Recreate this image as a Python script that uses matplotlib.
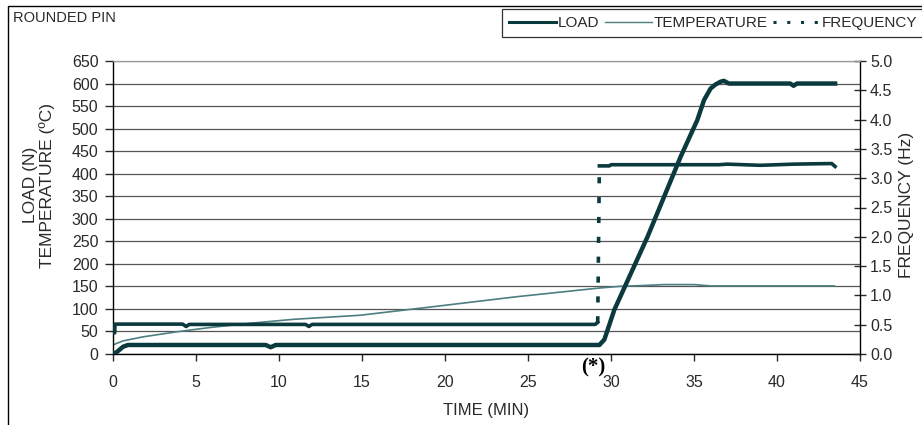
import matplotlib
matplotlib.use("Agg")
import matplotlib.pyplot as plt
from matplotlib.lines import Line2D
from matplotlib.patches import Rectangle

plt.rcParams['font.family'] = ['Liberation Sans', 'DejaVu Sans']

# load (N) vs time (min)
load_time = [0, 0.15, 0.35, 0.6, 0.9, 1.2, 9.2, 9.5, 9.8, 12.0, 29.3, 29.6, 30.2, 31.2,
             32.2, 33.2, 34.2, 35.2, 35.6, 36.0, 36.3, 36.6, 36.8, 37.1, 40.8, 41.0, 41.2, 43.5]
load_n = [3, 2, 8, 16, 20, 20, 20, 15, 20, 20, 20, 32, 98, 179,
          260, 349, 438, 519, 563, 589, 598, 604, 606, 600, 600, 595, 600, 600]

# temperature (C) vs time
temp_time = [0, 0.12, 0.6, 1.8, 3.8, 5.9, 8.5, 10.9, 14.9, 19.3, 24.3, 29.2, 30.5, 32.0,
             33.2, 35.0, 36.0, 43.5]
temp_c = [20, 22, 29, 38, 49, 59, 69, 77, 86, 105, 127, 146, 150, 152,
          154, 154, 151, 151]

# frequency (Hz) vs time
freq_time = [0, 0.1, 0.12, 4.2, 4.4, 4.6, 11.6, 11.8, 12.0, 29.05, 29.2, 29.3, 29.9, 30.0,
             36.5, 37.0, 39.0, 41.0, 43.3, 43.5]
freq_hz = [0.36, 0.36, 0.51, 0.51, 0.47, 0.505, 0.505, 0.47, 0.505, 0.505, 0.54, 3.21, 3.21, 3.23,
           3.23, 3.24, 3.22, 3.24, 3.25, 3.2]

x_ticks = [0, 5, 10, 15, 20, 25, 30, 35, 40, 45]
left_ticks = list(range(0, 651, 50))
right_ticks = [i * 0.5 for i in range(11)]

load_col = '#0a3a3e'
temp_col = '#4d7e81'
txt_col = '#2a2a2a'

W, H = 922, 425
fig = plt.figure(figsize=(W / 100, H / 100), dpi=100)
ax = fig.add_axes([113 / W, 1 - 354 / H, (860 - 113) / W, (354 - 61) / H])
ax2 = ax.twinx()

# outer chart frame (cut off at right/bottom)
fig.patches.append(Rectangle((8 / W, -0.1), 1.2, 1.1 - 6 / H, transform=fig.transFigure,
                             fill=False, edgecolor='black', linewidth=1.0))

ax.plot(temp_time, temp_c, color=temp_col, lw=1.2, zorder=2, solid_capstyle='butt')
ax.plot(load_time, load_n, color=load_col, lw=3.2, zorder=3, solid_joinstyle='round')

# frequency: dense data looks solid, the jump shows the dash pattern
j = next(i for i in range(len(freq_hz) - 1) if freq_hz[i + 1] - freq_hz[i] > 1)
ax2.plot(freq_time[:j + 1], freq_hz[:j + 1], color=load_col, lw=2.6)
ax2.plot(freq_time[j:j + 2], freq_hz[j:j + 2], color=load_col, lw=2.6,
         linestyle=(0, (1.7, 3.8)), dash_capstyle='butt')
ax2.plot(freq_time[j + 1:], freq_hz[j + 1:], color=load_col, lw=2.6)

ax.set_xlim(0, 45)
ax.set_ylim(0, 650)
ax2.set_ylim(0, 5)
ax.set_xticks(x_ticks)
ax.set_yticks(left_ticks)
ax2.set_yticks(right_ticks)
ax2.set_yticklabels([f'{v:.1f}' for v in right_ticks])

ax.yaxis.grid(True, color='#555555', lw=0.9)
ax.set_axisbelow(True)

for a in (ax, ax2):
    a.spines['top'].set_color('#999999')
    a.spines['top'].set_linewidth(0.8)
ax2.spines['left'].set_visible(False)
ax2.spines['bottom'].set_visible(False)
ax.spines['right'].set_visible(False)
for s in ('left', 'bottom'):
    ax.spines[s].set_linewidth(1.0)
ax2.spines['right'].set_linewidth(1.0)

ax.tick_params(axis='x', direction='out', length=5, width=1, pad=10, labelsize=11.5, colors=txt_col)
ax.tick_params(axis='y', direction='out', length=5.5, width=1, pad=5, labelsize=11.5, colors=txt_col)
ax2.tick_params(axis='y', direction='inout', length=8.5, width=1, pad=3, labelsize=11.5, colors=txt_col)

fig.text(486 / W, 1 - 410 / H, 'TIME (MIN)', ha='center', va='center', fontsize=12, color=txt_col)
fig.text(39 / W, 1 - 185 / H, 'LOAD (N)\nTEMPERATURE (ºC)', ha='center', va='center',
         rotation=90, multialignment='center', fontsize=12.5, color=txt_col, linespacing=1.15)
fig.text(906 / W, 1 - 205 / H, 'FREQUENCY (Hz)', ha='center', va='center', rotation=90,
         fontsize=12.5, color=txt_col)
fig.text(13 / W, 1 - 18 / H, 'ROUNDED PIN', ha='left', va='center', fontsize=10.5, color=txt_col)

ax.annotate('(*)', xy=(28.95, -0.045), xycoords=('data', 'axes fraction'), ha='center', va='center',
            fontsize=15, fontweight='bold', family='Liberation Serif', annotation_clip=False)

# legend box runs past the right edge, as in the original
handles = [Line2D([], [], color=load_col, lw=2.2),
           Line2D([], [], color=temp_col, lw=1.0),
           Line2D([], [], color=load_col, lw=2.2, linestyle=(0, (1.0, 3.5)), dash_capstyle='butt')]
leg = fig.legend(handles, ['LOAD', 'TEMPERATURE', 'FREQUENCY'], loc='upper left',
                 bbox_to_anchor=(502 / W, 1 - 9 / H), ncol=3, fontsize=11, frameon=True,
                 fancybox=False, borderaxespad=0, borderpad=0.45, handlelength=3.1,
                 handletextpad=0.1, columnspacing=0.35)
leg.get_frame().set_edgecolor('black')
leg.get_frame().set_linewidth(0.9)
for t in leg.get_texts():
    t.set_color(txt_col)

fig.savefig('out.png', dpi=100)
